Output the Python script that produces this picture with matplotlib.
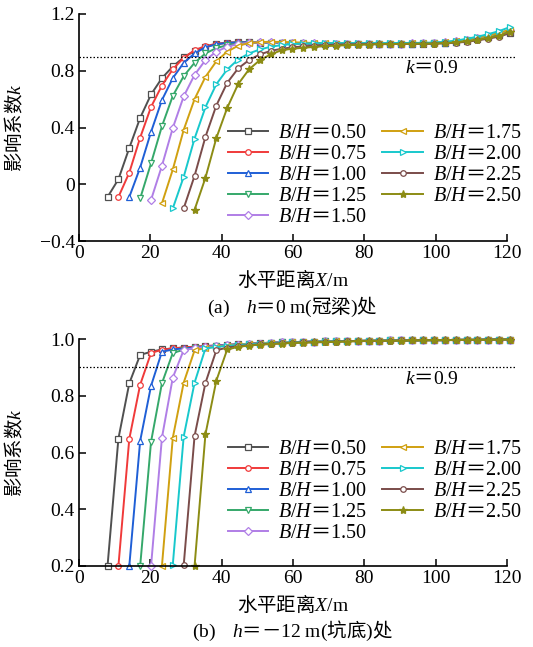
import numpy as np
import matplotlib
matplotlib.use('Agg')
import matplotlib.pyplot as plt

# fuentes: serif para numeros, CJK para el texto chino
plt.rcParams['font.family'] = ['Liberation Serif', 'Noto Sans CJK SC']
plt.rcParams['mathtext.fontset'] = 'custom'
plt.rcParams['mathtext.rm'] = 'Liberation Serif'
plt.rcParams['mathtext.it'] = 'Liberation Serif:italic'
plt.rcParams['mathtext.bf'] = 'Liberation Serif:bold'
plt.rcParams['axes.unicode_minus'] = True

# posiciones horizontales X (m) de los puntos; la curva i empieza en x_grid[i]
x_grid = [8.0, 11.05, 14.1, 17.15, 20.2, 23.25, 26.3, 29.35, 32.4, 35.45,
          38.5, 41.55, 44.6, 47.65, 50.7, 53.75, 56.8, 59.85, 62.9, 65.95,
          69.0, 72.05, 75.1, 78.15, 81.2, 84.25, 87.3, 90.35, 93.4, 96.45,
          99.5, 102.55, 105.6, 108.65, 111.7, 114.75, 117.8, 120.85]

bh_labels = ['0.50', '0.75', '1.00', '1.25', '1.50', '1.75', '2.00', '2.25', '2.50']

# (a) h = 0 m (viga de coronacion)
a_050 = [-0.09, 0.035, 0.256, 0.468, 0.633, 0.748, 0.830, 0.894, 0.940, 0.969,
         0.988, 0.997, 1.000, 1.000, 0.999, 0.997, 0.995, 0.993, 0.992, 0.991,
         0.990, 0.990, 0.990, 0.990, 0.990, 0.990, 0.991, 0.991, 0.992, 0.992,
         0.993, 0.997, 1.003, 1.012, 1.024, 1.036, 1.050, 1.068]
a_075 = [-0.09, 0.082, 0.329, 0.545, 0.696, 0.811, 0.891, 0.945, 0.974,
         0.990, 0.998, 1.000, 1.000, 0.999, 0.997, 0.995, 0.993, 0.992, 0.991,
         0.990, 0.990, 0.990, 0.990, 0.990, 0.990, 0.991, 0.991, 0.992, 0.992,
         0.993, 0.997, 1.004, 1.014, 1.026, 1.040, 1.054, 1.072]
a_100 = [-0.09, 0.118, 0.369, 0.593, 0.748, 0.856, 0.922, 0.965,
         0.987, 0.997, 1.000, 1.001, 1.000, 0.998, 0.996, 0.994, 0.992, 0.991,
         0.990, 0.990, 0.990, 0.990, 0.990, 0.990, 0.991, 0.991, 0.992, 0.993,
         0.995, 0.999, 1.006, 1.016, 1.030, 1.044, 1.060, 1.080]
a_125 = [-0.10, 0.148, 0.409, 0.623, 0.762, 0.856, 0.922,
         0.960, 0.980, 0.991, 0.996, 0.998, 0.998, 0.997, 0.995, 0.993, 0.992,
         0.991, 0.990, 0.990, 0.990, 0.990, 0.990, 0.991, 0.991, 0.992, 0.993,
         0.995, 0.999, 1.006, 1.016, 1.030, 1.045, 1.060, 1.080]
a_150 = [-0.11, 0.130, 0.397, 0.619, 0.771, 0.875,
         0.935, 0.969, 0.988, 0.997, 1.000, 1.000, 0.999, 0.997, 0.995, 0.993,
         0.992, 0.991, 0.990, 0.990, 0.990, 0.990, 0.991, 0.992, 0.993, 0.994,
         0.996, 1.000, 1.008, 1.019, 1.033, 1.048, 1.065, 1.088]
a_175 = [-0.135, 0.104, 0.383, 0.600, 0.757,
         0.866, 0.935, 0.976, 0.995, 1.002, 1.004, 1.003, 1.001, 0.998, 0.996,
         0.994, 0.992, 0.991, 0.990, 0.990, 0.990, 0.991, 0.992, 0.993, 0.994,
         0.996, 1.000, 1.008, 1.019, 1.033, 1.048, 1.066, 1.090]
a_200 = [-0.17, 0.052, 0.322, 0.543,
         0.705, 0.809, 0.879, 0.922, 0.950, 0.969, 0.981, 0.988, 0.992, 0.994,
         0.995, 0.995, 0.995, 0.995, 0.995, 0.995, 0.995, 0.996, 0.996, 0.997,
         0.999, 1.004, 1.012, 1.025, 1.040, 1.058, 1.080, 1.108]
a_225 = [-0.17, 0.059, 0.334,
         0.555, 0.715, 0.816, 0.875, 0.915, 0.940, 0.955, 0.965, 0.972, 0.977,
         0.981, 0.984, 0.986, 0.987, 0.988, 0.988, 0.989, 0.989, 0.990, 0.990,
         0.991, 0.993, 0.997, 1.004, 1.014, 1.026, 1.041, 1.065]
a_250 = [-0.18, 0.045,
         0.325, 0.538, 0.705, 0.809, 0.875, 0.915, 0.945, 0.955, 0.962, 0.968,
         0.973, 0.977, 0.980, 0.983, 0.985, 0.987, 0.988, 0.989, 0.990, 0.991,
         0.992, 0.995, 1.000, 1.008, 1.018, 1.031, 1.048, 1.075]

# (b) h = -12 m (fondo de la excavacion)
b_050 = [0.200, 0.649, 0.844, 0.944, 0.955, 0.963, 0.967, 0.970, 0.972, 0.975,
         0.977, 0.979, 0.981, 0.983, 0.985, 0.987, 0.988, 0.989, 0.990, 0.991,
         0.992, 0.992, 0.993, 0.993, 0.994, 0.994, 0.995, 0.995, 0.995, 0.996,
         0.996, 0.996, 0.997, 0.997, 0.997, 0.998, 0.998, 0.998]
b_075 = [0.200, 0.648, 0.839, 0.951, 0.962, 0.967, 0.970, 0.973, 0.975,
         0.977, 0.979, 0.981, 0.983, 0.985, 0.987, 0.988, 0.989, 0.990, 0.991,
         0.992, 0.992, 0.993, 0.993, 0.994, 0.994, 0.995, 0.995, 0.995, 0.996,
         0.996, 0.996, 0.997, 0.997, 0.997, 0.998, 0.998, 0.998]
b_100 = [0.200, 0.641, 0.835, 0.955, 0.963, 0.967, 0.970, 0.973,
         0.976, 0.979, 0.981, 0.983, 0.985, 0.987, 0.988, 0.989, 0.990, 0.991,
         0.992, 0.992, 0.993, 0.993, 0.994, 0.994, 0.995, 0.995, 0.995, 0.996,
         0.996, 0.996, 0.997, 0.997, 0.997, 0.998, 0.998, 0.998]
b_125 = [0.200, 0.638, 0.844, 0.951, 0.962, 0.967, 0.970,
         0.974, 0.977, 0.980, 0.982, 0.984, 0.986, 0.988, 0.989, 0.990, 0.991,
         0.992, 0.992, 0.993, 0.993, 0.994, 0.994, 0.995, 0.995, 0.995, 0.996,
         0.996, 0.996, 0.997, 0.997, 0.997, 0.998, 0.998, 0.998]
b_150 = [0.200, 0.652, 0.864, 0.961, 0.968, 0.972,
         0.975, 0.978, 0.980, 0.982, 0.984, 0.986, 0.988, 0.989, 0.990, 0.991,
         0.992, 0.992, 0.993, 0.993, 0.994, 0.994, 0.995, 0.995, 0.995, 0.996,
         0.996, 0.996, 0.997, 0.997, 0.997, 0.998, 0.998, 0.998]
b_175 = [0.200, 0.652, 0.846, 0.960, 0.968,
         0.973, 0.977, 0.980, 0.982, 0.984, 0.986, 0.987, 0.988, 0.989, 0.990,
         0.991, 0.992, 0.993, 0.993, 0.994, 0.994, 0.995, 0.995, 0.995, 0.996,
         0.996, 0.996, 0.997, 0.997, 0.997, 0.998, 0.998, 0.998]
b_200 = [0.205, 0.656, 0.846, 0.967,
         0.972, 0.976, 0.979, 0.981, 0.983, 0.985, 0.987, 0.988, 0.989, 0.990,
         0.991, 0.992, 0.993, 0.993, 0.994, 0.994, 0.995, 0.995, 0.995, 0.996,
         0.996, 0.996, 0.997, 0.997, 0.997, 0.998, 0.998, 0.998]
b_225 = [0.202, 0.658, 0.845,
         0.960, 0.970, 0.975, 0.978, 0.981, 0.983, 0.985, 0.987, 0.988, 0.989,
         0.990, 0.991, 0.992, 0.993, 0.993, 0.994, 0.994, 0.995, 0.995, 0.996,
         0.996, 0.996, 0.997, 0.997, 0.997, 0.998, 0.998, 0.998]
b_250 = [0.200, 0.664,
         0.853, 0.963, 0.972, 0.977, 0.980, 0.982, 0.984, 0.986, 0.987, 0.988,
         0.989, 0.990, 0.991, 0.992, 0.993, 0.993, 0.994, 0.994, 0.995, 0.995,
         0.996, 0.996, 0.996, 0.997, 0.997, 0.997, 0.998, 0.998]

curvas_a = [a_050, a_075, a_100, a_125, a_150, a_175, a_200, a_225, a_250]
curvas_b = [b_050, b_075, b_100, b_125, b_150, b_175, b_200, b_225, b_250]

colores = ['#505050', '#f03a3a', '#1f5fd6', '#35a86a', '#b07ee6',
           '#d0a010', '#18c8cc', '#7a4c4a', '#8c8c14']
marcadores = ['s', 'o', '^', 'v', 'D', '<', '>', 'o', '*']

CJK = 'Noto Sans CJK SC'
FS = 14


def dibujar(ax, curvas, ylim, yticks, yticklabels):
    for i, y in enumerate(curvas):
        x = x_grid[i:i + len(y)]
        relleno = colores[i] if marcadores[i] == '*' else 'white'
        ms = 6 if marcadores[i] == '*' else 4
        ax.plot(x, y, color=colores[i], lw=1.4, marker=marcadores[i], ms=ms,
                mfc=relleno, mec=colores[i], mew=0.9, clip_on=False,
                label=r'$B/H$＝$\mathrm{' + bh_labels[i] + '}$')
    ax.plot([0, 122.5], [0.9, 0.9], color='black', lw=0.9,
            linestyle=(0, (1.2, 1.6)), clip_on=False)
    ax.set_xlim(0, 120)
    ax.set_ylim(*ylim)
    ax.set_xticks([0, 20, 40, 60, 80, 100, 120])
    ax.set_yticks(yticks)
    ax.set_yticklabels(yticklabels)
    ax.spines['top'].set_visible(False)
    ax.spines['right'].set_visible(False)
    ax.spines['left'].set_linewidth(1.2)
    ax.spines['bottom'].set_linewidth(1.2)
    ax.tick_params(direction='in', length=5, width=1.1, labelsize=FS, pad=3)
    ax.set_ylabel(r'影响系数$k$', fontfamily=CJK, fontsize=FS, va='center')
    ax.yaxis.set_label_coords(-0.148, 0.5)
    ax.set_xlabel(r'水平距离$X\mathrm{/m}$', fontfamily=CJK, fontsize=FS, va='center')
    ax.xaxis.set_label_coords(0.5, -0.172)


fig = plt.figure(figsize=(5.33, 6.47), dpi=100)
ax1 = fig.add_axes([79 / 533, 1 - 241 / 647, 428 / 533, 227 / 647])
ax2 = fig.add_axes([79 / 533, 1 - 566 / 647, 428 / 533, 227 / 647])

dibujar(ax1, curvas_a, (-0.4, 1.2), [-0.4, 0, 0.4, 0.8, 1.2],
        ['\u22120.4', '0', '0.4', '0.8', '1.2'])
dibujar(ax2, curvas_b, (0.2, 1.0), [0.2, 0.4, 0.6, 0.8, 1.0],
        ['0.2', '0.4', '0.6', '0.8', '1.0'])

ax1.text(99, 0.825, r'$k$＝$\mathrm{0.9}$', fontfamily=CJK, fontsize=FS,
         ha='center', va='center')
ax2.text(99, 0.862, r'$k$＝$\mathrm{0.9}$', fontfamily=CJK, fontsize=FS,
         ha='center', va='center')

for ax, ytop in [(ax1, 122), (ax2, 438)]:
    ax.legend(loc='upper left', bbox_to_anchor=(228 / 533, 1 - ytop / 647),
              bbox_transform=fig.transFigure, ncol=2, frameon=False,
              prop={'family': CJK, 'size': 14.5}, handlelength=2.0,
              handletextpad=0.5, columnspacing=0.75, labelspacing=0.0,
              borderpad=0, borderaxespad=0)

fig.text(292 / 533, 1 - 307 / 647,
         r'$\mathrm{(a)}$    $h$＝$\mathrm{0\ m(}$冠梁$\mathrm{)}$处',
         fontfamily=CJK, fontsize=FS, ha='center', va='center')
fig.text(292 / 533, 1 - 631 / 647,
         r'$\mathrm{(b)}$    $h$＝－$\mathrm{12\ m(}$坑底$\mathrm{)}$处',
         fontfamily=CJK, fontsize=FS, ha='center', va='center')

fig.savefig('out.png', dpi=100)
